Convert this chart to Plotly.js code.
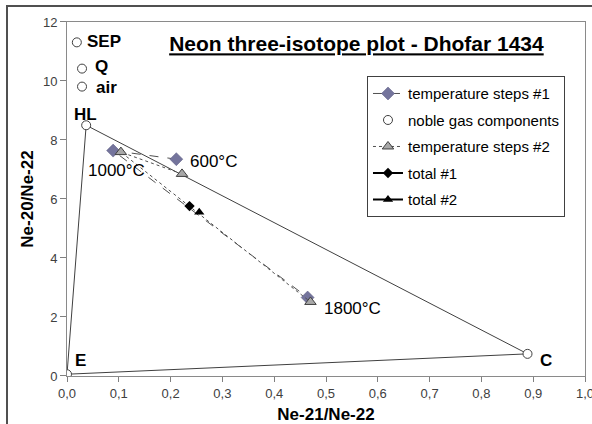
<!DOCTYPE html>
<html>
<head>
<meta charset="utf-8">
<script src="https://cdn.plot.ly/plotly-3.0.1.min.js"></script>
<style>html,body{margin:0;padding:0;background:#fff;}#chart{width:592px;height:424px;}</style>
</head>
<body>
<div id="chart"></div>
<script>
// Temperature steps #1 (600, 1000, 1800 °C)
const steps1X = [0.211, 0.089, 0.4645];
const steps1Y = [7.35, 7.64, 2.66];
// Temperature steps #2
const steps2X = [0.222, 0.104, 0.470];
const steps2Y = [6.85, 7.59, 2.51];
// Totals
const total1X = [0.2365];
const total1Y = [5.76];
const total2X = [0.2553];
const total2Y = [5.55];
// Noble gas components
const compNames = ["SEP", "Q", "air", "HL", "E", "C"];
const compX = [0.019, 0.029, 0.029, 0.037, 0.0, 0.889];
const compY = [11.31, 10.42, 9.81, 8.50, 0.06, 0.75];
// Mixing triangle HL - E - C - HL
const triNames = ["HL", "E", "C", "HL"];
// Temperature labels
const tempLabels = ["600°C", "1000°C", "1800°C"];
const tempLabelX = [0.234, 0.037, 0.492];
const tempLabelY = [7.26, 6.95, 2.29];
// Component label positions
const compLabelX = [0.0355, 0.0505, 0.0515, 0.036, 0.012, 0.909];
const compLabelY = [11.33, 10.49, 9.79, 8.88, 0.51, 0.53];
const xTicks = [0, 0.1, 0.2, 0.3, 0.4, 0.5, 0.6, 0.7, 0.8, 0.9, 1.0];
const yTicks = [0, 2, 4, 6, 8, 10, 12];

const FONT = "Liberation Sans, Arial, sans-serif";

const triX = triNames.map(n => compX[compNames.indexOf(n)]);
const triY = triNames.map(n => compY[compNames.indexOf(n)]);

const traces = [
  {x: triX, y: triY, mode: "lines", line: {color: "#404040", width: 1}, showlegend: false, hoverinfo: "skip"},
  {x: steps1X, y: steps1Y, name: "temperature steps #1", mode: "lines+markers", legendgroup: "a",
   line: {color: "#505050", width: 1, dash: "dash"},
   marker: {symbol: "diamond", size: 10, color: "#74749c", line: {color: "#5a5a80", width: 0.5}}},
  {x: compX, y: compY, name: "noble gas components", mode: "markers", legendgroup: "b",
   marker: {symbol: "circle", size: 9, color: "#ffffff", line: {color: "#404040", width: 1}}},
  {x: steps2X, y: steps2Y, name: "temperature steps #2", mode: "lines+markers", legendgroup: "c",
   line: {color: "#505050", width: 1, dash: "dot"},
   marker: {symbol: "triangle-up", size: 10, color: "#a8a8a8", line: {color: "#404040", width: 1}}},
  {x: total1X, y: total1Y, name: "total #1", mode: "lines+markers", legendgroup: "d",
   line: {color: "#000000", width: 2},
   marker: {symbol: "diamond", size: 8, color: "#000000"}},
  {x: total2X, y: total2Y, name: "total #2", mode: "lines+markers", legendgroup: "e",
   line: {color: "#000000", width: 2},
   marker: {symbol: "triangle-up", size: 9, color: "#000000"}},
  // empty trace holding the outer chart-area frame axes
  {x: [null], y: [null], xaxis: "x2", yaxis: "y2", mode: "markers", showlegend: false, hoverinfo: "skip"}
];

const annotations = [];
tempLabels.forEach((t, i) => annotations.push({
  x: tempLabelX[i], y: tempLabelY[i], xref: "x", yref: "y", text: t, showarrow: false,
  xanchor: "left", yanchor: "middle", font: {family: FONT, size: 17, color: "#000"}
}));
compNames.forEach((n, i) => annotations.push({
  x: compLabelX[i], y: compLabelY[i], xref: "x", yref: "y", text: "<b>" + n + "</b>", showarrow: false,
  xanchor: n === "HL" ? "center" : "left", yanchor: "middle", font: {family: FONT, size: 17, color: "#000"}
}));

const layout = {
  width: 592, height: 424,
  margin: {l: 8, r: 0, t: 7, b: 0},
  paper_bgcolor: "#ffffff", plot_bgcolor: "rgba(0,0,0,0)",
  separators: ",.",
  font: {family: FONT, color: "#404040"},
  title: {text: "<b><u>Neon three-isotope plot - Dhofar 1434</u></b>",
    font: {family: FONT, size: 21, color: "#000"},
    xref: "paper", yref: "paper", x: 0.5966, y: 0.9113, xanchor: "center", yanchor: "middle"},
  xaxis: {domain: [0.10103, 0.98801], range: [0, 1.0], tickvals: xTicks, tickformat: ".1f", ticks: "outside", ticklen: 5,
    ticklabeloverflow: "allow", anchor: "y",
    tickcolor: "#808080", showline: true, linecolor: "#8a8a8a", mirror: true, showgrid: false, zeroline: false,
    tickfont: {family: FONT, size: 13, color: "#404040"},
    title: {text: "<b>Ne-21/Ne-22</b>", font: {family: FONT, size: 17, color: "#000"}, standoff: 15}},
  yaxis: {domain: [0.11511, 0.96403], range: [0, 12], tickvals: yTicks, ticks: "outside", ticklen: 6, anchor: "x",
    tickcolor: "#808080", showline: true, linecolor: "#8a8a8a", mirror: true, showgrid: false, zeroline: false,
    tickfont: {family: FONT, size: 13, color: "#404040"},
    title: {text: "<b>Ne-20/Ne-22</b>", font: {family: FONT, size: 17, color: "#000"}, standoff: 4}},
  xaxis2: {domain: [0, 1], anchor: "y2", side: "top", range: [0, 1], showline: true, linecolor: "#505050", linewidth: 2,
    showticklabels: false, ticks: "", showgrid: false, zeroline: false},
  yaxis2: {domain: [0, 1], anchor: "x2", side: "left", range: [0, 1], showline: true, linecolor: "#505050", linewidth: 2,
    showticklabels: false, ticks: "", showgrid: false, zeroline: false},
  legend: {x: 0.6147, y: 0.834, xanchor: "left", yanchor: "top", bgcolor: "#ffffff",
    bordercolor: "#404040", borderwidth: 1, itemwidth: 30, tracegroupgap: 4,
    font: {family: FONT, size: 15, color: "#000"}},
  annotations: annotations,
  showlegend: true
};

Plotly.newPlot("chart", traces, layout, {staticPlot: true, displayModeBar: false});
</script>
</body>
</html>
